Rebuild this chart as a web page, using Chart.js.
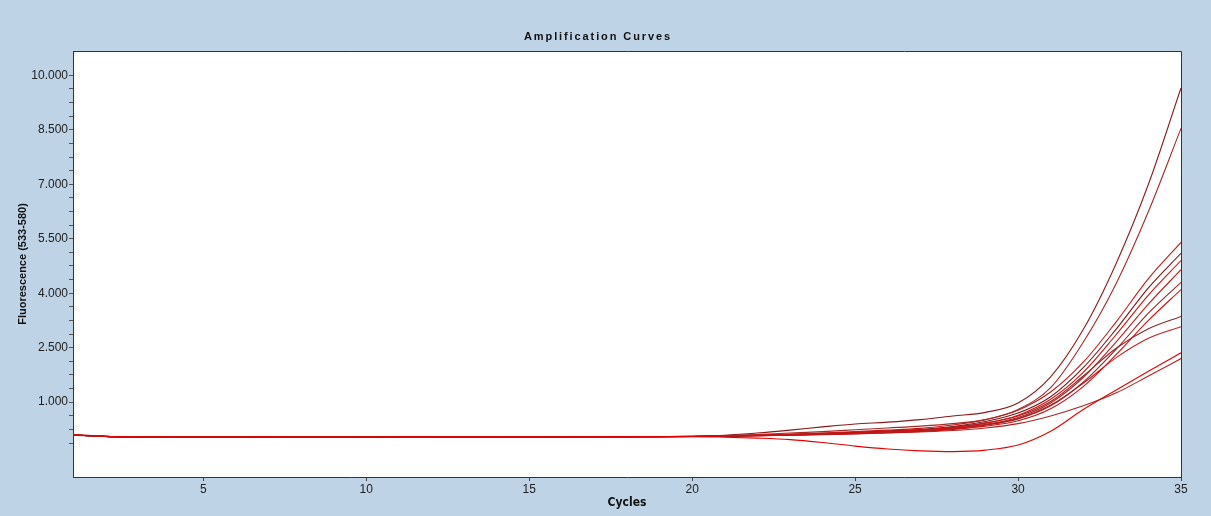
<!DOCTYPE html>
<html>
<head>
<meta charset="utf-8">
<script src="https://cdn.jsdelivr.net/npm/chart.js@4.4.0/dist/chart.umd.min.js"></script>
<style>
  html, body { margin: 0; padding: 0; background: #bed3e6; }
  #wrap { width: 1211px; height: 516px; }
</style>
</head>
<body>
<div id="wrap"><canvas id="chartAmp" width="1211" height="516"></canvas></div>
<script>
// Data amplifikasi (siklus 1..35)
const cycles = [1,2,3,4,5,6,7,8,9,10,11,12,13,14,15,16,17,18,19,20,21,22,23,24,25,26,27,28,29,30,31,32,33,34,35];

const curveDip = [105,60,45,40,40,42,45,42,40,42,44,45,46,46,47,48,50,51,52,52,35,10,-30,-110,-210,-290,-340,-360,-320,-180,200,800,1330,1850,2360];
const curveA = [100,60,45,40,40,42,45,42,40,42,44,45,46,46,47,48,50,52,56,60,90,150,230,320,400,450,520,620,720,980,1700,3000,4800,7000,9650];
const curveB = [100,58,44,40,40,42,44,42,40,42,44,45,46,46,47,48,50,52,55,58,80,110,150,190,240,290,340,410,520,800,1400,2650,4250,6250,8540];
const curveC1 = [98,58,44,38,38,41,44,41,39,41,43,44,45,45,46,47,49,51,54,58,75,95,120,150,190,230,280,370,520,780,1280,2100,3200,4400,5400];
const curveC2 = [96,57,43,38,38,40,43,40,38,40,42,43,44,44,45,46,48,50,53,56,70,90,110,140,170,210,250,330,470,700,1150,1950,3000,4150,5100];
const curveC3 = [95,56,43,37,37,40,43,40,38,40,42,43,44,44,45,46,48,50,52,55,68,85,105,130,160,195,235,300,420,640,1080,1820,2850,3950,4900];
const curveC4 = [95,56,42,37,37,39,42,40,38,40,41,42,43,44,45,46,47,49,52,54,65,80,100,120,150,180,215,280,390,580,980,1680,2650,3700,4650];
const curveC5 = [97,57,43,38,38,40,43,41,39,41,42,43,44,45,46,47,48,50,53,55,66,82,100,120,145,175,210,270,370,540,900,1550,2450,3450,4300];
const curveC6 = [94,55,42,37,37,39,42,40,38,40,41,42,43,44,45,46,47,49,52,54,62,75,90,110,130,160,195,250,340,490,820,1430,2300,3250,4100];
const curveC7 = [98,58,44,38,38,41,44,41,39,41,43,44,45,45,46,47,49,51,54,56,70,88,110,135,165,200,240,310,430,620,1020,1720,2480,3020,3360];
const curveC8 = [96,57,43,38,38,40,43,40,38,40,42,43,44,44,45,46,48,50,53,55,66,80,98,118,142,170,205,265,380,550,920,1520,2220,2760,3080];
const curveC9 = [95,56,42,37,37,39,42,40,38,40,41,42,43,44,45,46,47,49,52,54,62,74,88,105,125,150,180,220,290,410,620,900,1250,1720,2200];

// Label sumbu
const xTickValues = [5,10,15,20,25,30,35];
const yMajorTicks = [1000,2500,4000,5500,7000,8500,10000];

// urutan pertama digambar paling atas
const allCurves = [curveDip, curveC3, curveA, curveB, curveC1, curveC2, curveC4, curveC5, curveC6, curveC7, curveC8, curveC9];
const lineColors = ['#e80000','#d41010','#8b1a1a','#a52a2a','#c81818','#7a1515','#b82020','#9c2020','#d01010','#8f2424','#c42020','#b22222'];

// Format angka gaya Eropa: 10.000
function fmtNum(v) {
  return String(v).replace(/\B(?=(\d{3})+(?!\d))/g, '.');
}

const tickFont = { family: "'Liberation Sans', Arial, sans-serif", size: 12 };

// Plugin untuk latar, bingkai dan judul
const framePlugin = {
  id: 'frame',
  beforeDraw(chart) {
    const { ctx, chartArea: a } = chart;
    ctx.save();
    ctx.fillStyle = '#bed3e6';
    ctx.fillRect(0, 0, chart.width, chart.height);
    ctx.fillStyle = '#ffffff';
    ctx.fillRect(a.left, a.top, a.right - a.left, a.bottom - a.top);
    ctx.restore();
  },
  afterDraw(chart) {
    const { ctx, chartArea: a } = chart;
    ctx.save();
    ctx.strokeStyle = '#333333';
    ctx.lineWidth = 1;
    ctx.beginPath();
    ctx.moveTo(a.left, a.top + 0.5);
    ctx.lineTo(a.right + 0.5, a.top + 0.5);
    ctx.lineTo(a.right + 0.5, a.bottom);
    ctx.stroke();

    // judul
    ctx.fillStyle = '#111111';
    ctx.font = "bold 11px 'Liberation Sans', Arial, sans-serif";
    ctx.letterSpacing = '1.9px';
    ctx.textAlign = 'center';
    ctx.textBaseline = 'middle';
    ctx.fillText('Amplification Curves', 598, 37);
    ctx.letterSpacing = '0px';

    // judul sumbu x
    ctx.font = "bold 12px 'Liberation Sans Narrow', 'DejaVu Sans Condensed', sans-serif";
    ctx.fillText('Cycles', (a.left + a.right) / 2, 503);

    // judul sumbu y
    ctx.translate(23, (a.top + a.bottom) / 2);
    ctx.rotate(-Math.PI / 2);
    ctx.font = "bold 11px 'Liberation Sans', Arial, sans-serif";
    ctx.fillText('Fluorescence (533-580)', 0, 0);
    ctx.restore();
  }
};

const ctx = document.getElementById('chartAmp').getContext('2d');
const myChart = new Chart(ctx, {
  type: 'line',
  data: {
    labels: cycles,
    datasets: allCurves.map((vals, i) => ({
      data: vals.map((v, j) => ({ x: cycles[j], y: v })),
      borderColor: lineColors[i],
      borderWidth: 1.1,
      pointRadius: 0,
      fill: false,
      cubicInterpolationMode: 'monotone'
    }))
  },
  options: {
    responsive: false,
    animation: false,
    layout: { padding: { left: 0, top: 51, right: 30, bottom: 0 } },
    plugins: {
      legend: { display: false },
      tooltip: { enabled: false },
      title: { display: false }
    },
    scales: {
      x: {
        type: 'linear',
        min: 1,
        max: 35,
        afterBuildTicks: s => { s.ticks = xTickValues.map(v => ({ value: v })); },
        afterFit: s => { s.height = 39; },
        ticks: { color: '#222', font: tickFont, padding: 1, maxRotation: 0, autoSkip: false, callback: v => String(v) },
        grid: { drawOnChartArea: false, tickLength: 4, color: '#444' },
        border: { color: '#333' }
      },
      y: {
        type: 'linear',
        min: -1060,
        max: 10670,
        afterBuildTicks: s => {
          const t = [];
          yMajorTicks.forEach(m => {
            t.push({ value: m });
            for (let k = 1; k <= 3; k++) t.push({ value: m - 375 * k });
          });
          s.ticks = t.sort((p, q) => p.value - q.value);
        },
        afterFit: s => { s.width = 73; },
        ticks: {
          color: '#222', font: tickFont, padding: 1, autoSkip: false,
          callback: v => yMajorTicks.includes(v) ? fmtNum(v) : ''
        },
        grid: { drawOnChartArea: false, tickLength: 4, color: '#555' },
        border: { color: '#333' }
      }
    }
  },
  plugins: [framePlugin]
});
</script>
</body>
</html>
